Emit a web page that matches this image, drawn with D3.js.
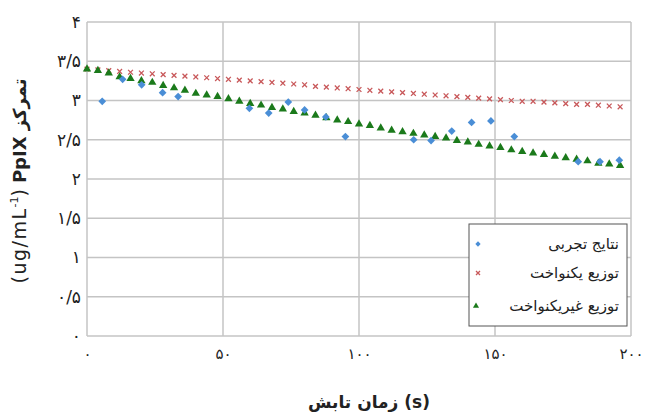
<!DOCTYPE html>
<html>
<head>
<meta charset="utf-8">
<script src="https://d3js.org/d3.v7.min.js"></script>
<style>
  body { margin: 0; background: #fff; }
  text { font-family: "DejaVu Sans", sans-serif; }
</style>
</head>
<body>
<script>

var margin = {top: 22, right: 17, bottom: 79, left: 87};

var width = 648 - margin.left - margin.right;
var height = 415 - margin.top - margin.bottom;

// time steps of the two model series (s)
var modelTime = [0, 4, 8, 12, 16, 20, 24, 28, 32, 36, 40, 44, 48, 52, 56, 60, 64, 68, 72, 76,
  80, 84, 88, 92, 96, 100, 104, 108, 112, 116, 120, 124, 128, 132, 136, 140, 144, 148, 152, 156,
  160, 164, 168, 172, 176, 180, 184, 188, 192, 196];

// uniform distribution
var uniformValues = [3.40, 3.39, 3.38, 3.37, 3.36, 3.35, 3.34, 3.33, 3.32, 3.31, 3.30, 3.29, 3.28, 3.27, 3.26, 3.25, 3.24, 3.23, 3.22, 3.21,
  3.20, 3.18, 3.17, 3.16, 3.15, 3.14, 3.13, 3.12, 3.11, 3.10, 3.09, 3.08, 3.07, 3.06, 3.05, 3.04, 3.03, 3.02, 3.01, 3.00,
  2.99, 2.99, 2.98, 2.97, 2.96, 2.95, 2.95, 2.94, 2.93, 2.92];

// non-uniform distribution
var nonUniformValues = [3.40, 3.38, 3.35, 3.30, 3.28, 3.25, 3.23, 3.19, 3.16, 3.13, 3.09, 3.07, 3.05, 3.02, 2.99, 2.96, 2.94, 2.91, 2.89, 2.86,
  2.84, 2.81, 2.78, 2.75, 2.73, 2.70, 2.68, 2.65, 2.62, 2.60, 2.58, 2.56, 2.54, 2.52, 2.49, 2.47, 2.44, 2.42, 2.40, 2.37,
  2.35, 2.33, 2.31, 2.29, 2.27, 2.25, 2.23, 2.20, 2.19, 2.17];

// experimental results
var expTime = [5.6, 13.1, 20.1, 27.8, 33.5, 59.7, 66.8, 74, 80, 87.8, 95, 120.1, 126.5, 134.1, 141.4, 148.5, 157.1, 180.6, 188.6, 195.7];
var expValues = [2.99, 3.27, 3.20, 3.10, 3.05, 2.90, 2.84, 2.98, 2.88, 2.79, 2.54, 2.50, 2.49, 2.61, 2.72, 2.74, 2.54, 2.22, 2.22, 2.24];

var xTicks = [0, 50, 100, 150, 200];
var xTickLabels = ["۰", "۵۰", "۱۰۰", "۱۵۰", "۲۰۰"];
var yTicks = [0, 0.5, 1, 1.5, 2, 2.5, 3, 3.5, 4];
var yTickLabels = ["۰", "۰/۵", "۱", "۱/۵", "۲", "۲/۵", "۳", "۳/۵", "۴"];

var seriesNames = ["نتایج تجربی", "توزیع یکنواخت", "توزیع غیریکنواخت"];
var xTitle = "زمان تابش (s)";

var colBlue = "#4a8ed6", colRed = "#c8585a", colGreen = "#1b7a1b";

var xScale = d3.scaleLinear().domain([0, 200]).range([0, width]);
var yScale = d3.scaleLinear().domain([0, 4]).range([height, 0]);

var svg = d3.select("body").append("svg")
    .attr("width", width + margin.left + margin.right)
    .attr("height", height + margin.top + margin.bottom)
    .append("g")
    .attr("transform", "translate(" + margin.left + "," + margin.top + ")");

// grid
svg.append("g").selectAll("line").data(yTicks).enter().append("line")
    .attr("x1", 0).attr("x2", width)
    .attr("y1", function(d) { return yScale(d); })
    .attr("y2", function(d) { return yScale(d); })
    .attr("stroke", "#c4c4c4").attr("stroke-width", 1.5);

svg.append("g").selectAll("line").data(xTicks).enter().append("line")
    .attr("x1", function(d) { return xScale(d); })
    .attr("x2", function(d) { return xScale(d); })
    .attr("y1", 0).attr("y2", height)
    .attr("stroke", "#c4c4c4").attr("stroke-width", 1.5);

// axes (labels only)
var xAxis = d3.axisBottom(xScale).tickValues(xTicks).tickSize(0).tickPadding(12)
    .tickFormat(function(d, i) { return xTickLabels[i]; });
var yAxis = d3.axisLeft(yScale).tickValues(yTicks).tickSize(0).tickPadding(6)
    .tickFormat(function(d, i) { return yTickLabels[i]; });

var gx = svg.append("g").attr("class", "x axis")
    .attr("transform", "translate(0," + height + ")").call(xAxis);
var gy = svg.append("g").attr("class", "y axis").call(yAxis);

gx.select(".domain").remove();
gy.select(".domain").remove();
gx.selectAll("text").attr("font-size", 15).attr("fill", "#222").attr("letter-spacing", 1)
    .attr("font-family", "DejaVu Sans");
gy.selectAll("text").attr("font-size", 17).attr("fill", "#222").attr("letter-spacing", 1.5)
    .attr("font-family", "DejaVu Sans");

// titles
svg.append("text")
    .attr("x", width / 2 + 10).attr("y", height + 72)
    .attr("text-anchor", "middle").attr("font-size", 17).attr("font-weight", "bold")
    .attr("fill", "#222")
    .text(xTitle);

var yTitle = svg.append("text")
    .attr("transform", "translate(-61,159) rotate(-90)")
    .attr("text-anchor", "middle").attr("font-size", 19).attr("fill", "#222")
    .attr("direction", "ltr");
yTitle.append("tspan").attr("letter-spacing", 1.5).text("(ug/mL");
yTitle.append("tspan").attr("font-size", 11).attr("dy", -8).text("-1");
yTitle.append("tspan").attr("dy", 8).text(") ");
yTitle.append("tspan").attr("font-weight", "bold").attr("font-size", 18).text("PpIX ");
yTitle.append("tspan").attr("font-weight", "bold").attr("font-size", 18).text("تمرکز");

// marker helpers (diamond = square turned 45 degrees)
var diamond = d3.symbol().type(d3.symbolSquare).size(30);
var triangle = d3.symbol().type(d3.symbolTriangle).size(30);
var crossPath = "M-2.4,-2.4L2.4,2.4M2.4,-2.4L-2.4,2.4";

// uniform series
svg.append("g").selectAll("path").data(modelTime).enter().append("path")
    .attr("transform", function(d, i) { return "translate(" + xScale(d) + "," + yScale(uniformValues[i]) + ")"; })
    .attr("d", crossPath)
    .attr("stroke", colRed).attr("stroke-width", 1.3).attr("fill", "none");

// non-uniform series
svg.append("g").selectAll("path").data(modelTime).enter().append("path")
    .attr("transform", function(d, i) { return "translate(" + xScale(d) + "," + yScale(nonUniformValues[i]) + ")"; })
    .attr("d", triangle)
    .attr("fill", colGreen);

// experimental
svg.append("g").selectAll("path").data(expTime).enter().append("path")
    .attr("transform", function(d, i) { return "translate(" + xScale(d) + "," + yScale(expValues[i]) + ") rotate(45)"; })
    .attr("d", diamond)
    .attr("fill", colBlue);

// legend
var legend = svg.append("g").attr("transform", "translate(" + (469 - margin.left) + "," + (224 - margin.top) + ")");
legend.append("rect")
    .attr("width", 158).attr("height", 102)
    .attr("fill", "#fff").attr("stroke", "#555").attr("stroke-width", 1);

var legendRows = [20, 49, 82];
var legendMarks = [
    function(g) { g.append("path").attr("transform", "rotate(45)").attr("d", d3.symbol().type(d3.symbolSquare).size(14)).attr("fill", colBlue); },
    function(g) { g.append("path").attr("d", "M-2,-2L2,2M2,-2L-2,2").attr("stroke", colRed).attr("stroke-width", 1.3); },
    function(g) { g.append("path").attr("d", d3.symbol().type(d3.symbolTriangle).size(16)).attr("fill", colGreen); }
];

seriesNames.forEach(function(name, i) {
    var row = legend.append("g").attr("transform", "translate(0," + legendRows[i] + ")");
    var m = row.append("g").attr("transform", "translate(" + (i === 2 ? 7 : 9) + ",0)");
    legendMarks[i](m);
    row.append("text")
        .attr("x", 150).attr("dy", "0.35em")
        .attr("text-anchor", "end")
        .attr("font-size", 15).attr("fill", "#222")
        .text(name);
});

</script>
</body>
</html>
